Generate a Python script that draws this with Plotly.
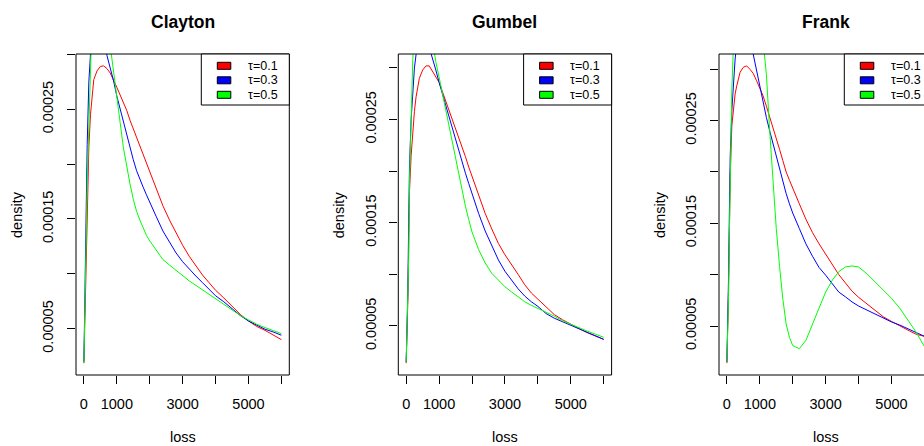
import plotly.graph_objects as go

# ---------------------------------------------------------------
# Data: loss grid and copula-based loss densities for three
# Kendall's tau values, one list per copula family and tau.
# ---------------------------------------------------------------
loss = [0, 25, 50, 75, 100, 150, 200, 250, 300, 400, 500, 600, 700, 800, 900,
        1000, 1100, 1200, 1300, 1400, 1500, 1600, 1700, 1800, 1900, 2000, 2200,
        2400, 2600, 2800, 3000, 3200, 3400, 3600, 3800, 4000, 4250, 4500, 4750,
        5000, 5250, 5500, 5750, 6000]

clayton_tau01 = [1.86e-5, 5.5e-5, 9.0e-5, 13.0e-5, 17.0e-5, 21.5e-5, 24.5e-5, 26.5e-5, 27.7e-5,
                 28.5e-5, 28.9e-5, 28.95e-5, 28.7e-5, 28.3e-5, 27.7e-5, 27.0e-5, 26.3e-5, 25.6e-5,
                 24.9e-5, 24.0e-5, 23.2e-5, 22.4e-5, 21.6e-5, 20.8e-5, 20.0e-5, 19.2e-5, 17.7e-5,
                 16.2e-5, 14.9e-5, 13.7e-5, 12.6e-5, 11.6e-5, 10.7e-5, 9.9e-5, 9.2e-5, 8.5e-5,
                 7.8e-5, 7.0e-5, 6.3e-5, 5.7e-5, 5.2e-5, 4.85e-5, 4.45e-5, 4.0e-5]
clayton_tau03 = [2.0e-5, 7.0e-5, 14.3e-5, 18.5e-5, 21.8e-5, 27.5e-5, 31.0e-5, 32.5e-5, 33.3e-5,
                 33.6e-5, 33.2e-5, 31.8e-5, 29.9e-5, 28.8e-5, 27.6e-5, 26.2e-5, 25.0e-5, 23.8e-5,
                 22.6e-5, 21.4e-5, 20.4e-5, 19.4e-5, 18.6e-5, 17.9e-5, 17.2e-5, 16.5e-5, 15.2e-5,
                 13.9e-5, 12.9e-5, 11.9e-5, 11.1e-5, 10.4e-5, 9.8e-5, 9.2e-5, 8.6e-5, 8.0e-5,
                 7.45e-5, 6.85e-5, 6.2e-5, 5.7e-5, 5.3e-5, 4.95e-5, 4.7e-5, 4.4e-5]
clayton_tau05 = [1.86e-5, 5.0e-5, 9.2e-5, 14.0e-5, 18.3e-5, 25.5e-5, 30.5e-5, 33.5e-5, 35.5e-5,
                 37.0e-5, 37.0e-5, 35.5e-5, 33.5e-5, 30.8e-5, 28.6e-5, 26.3e-5, 23.8e-5, 21.5e-5,
                 19.8e-5, 18.2e-5, 16.8e-5, 15.7e-5, 14.9e-5, 14.2e-5, 13.5e-5, 13.0e-5, 12.1e-5,
                 11.3e-5, 10.8e-5, 10.3e-5, 9.8e-5, 9.35e-5, 8.95e-5, 8.55e-5, 8.1e-5, 7.7e-5,
                 7.25e-5, 6.7e-5, 6.2e-5, 5.8e-5, 5.4e-5, 5.1e-5, 4.85e-5, 4.55e-5]

gumbel_tau01 = [1.40e-5, 4.0e-5, 7.5e-5, 12.5e-5, 18.0e-5, 21.5e-5, 24.0e-5, 25.8e-5, 27.2e-5,
                29.0e-5, 29.8e-5, 30.2e-5, 30.2e-5, 29.7e-5, 29.2e-5, 28.6e-5, 27.7e-5, 26.8e-5,
                26.0e-5, 25.2e-5, 24.3e-5, 23.3e-5, 22.4e-5, 21.4e-5, 20.4e-5, 19.5e-5, 17.6e-5,
                15.9e-5, 14.4e-5, 13.0e-5, 11.9e-5, 11.0e-5, 10.0e-5, 9.0e-5, 8.2e-5, 7.6e-5,
                6.8e-5, 6.1e-5, 5.6e-5, 5.15e-5, 4.75e-5, 4.35e-5, 4.0e-5, 3.7e-5]
gumbel_tau03 = [1.5e-5, 4.5e-5, 8.5e-5, 15.0e-5, 20.5e-5, 25.0e-5, 28.2e-5, 30.0e-5, 31.3e-5,
                32.8e-5, 33.3e-5, 33.0e-5, 32.0e-5, 31.0e-5, 29.8e-5, 28.6e-5, 27.5e-5, 26.4e-5,
                25.3e-5, 24.2e-5, 23.0e-5, 21.8e-5, 20.8e-5, 19.8e-5, 18.8e-5, 17.8e-5, 15.9e-5,
                14.2e-5, 12.8e-5, 11.4e-5, 10.3e-5, 9.4e-5, 8.6e-5, 7.9e-5, 7.35e-5, 6.9e-5,
                6.2e-5, 5.75e-5, 5.4e-5, 5.05e-5, 4.7e-5, 4.35e-5, 4.0e-5, 3.7e-5]
gumbel_tau05 = [1.5e-5, 4.5e-5, 8.5e-5, 11.5e-5, 19.0e-5, 26.5e-5, 30.8e-5, 33.5e-5, 35.0e-5,
                36.5e-5, 36.8e-5, 36.0e-5, 34.5e-5, 32.5e-5, 30.6e-5, 29.1e-5, 27.5e-5, 26.1e-5,
                24.6e-5, 22.9e-5, 21.3e-5, 19.6e-5, 18.0e-5, 16.6e-5, 15.3e-5, 14.1e-5, 12.4e-5,
                11.1e-5, 10.1e-5, 9.4e-5, 8.8e-5, 8.3e-5, 7.8e-5, 7.35e-5, 7.0e-5, 6.7e-5,
                6.35e-5, 5.95e-5, 5.5e-5, 5.15e-5, 4.8e-5, 4.5e-5, 4.2e-5, 3.9e-5]

frank_tau01 = [1.39e-5, 4.5e-5, 8.5e-5, 14.0e-5, 19.5e-5, 24.5e-5, 26.5e-5, 27.6e-5, 28.4e-5,
               29.7e-5, 30.2e-5, 30.33e-5, 30.0e-5, 29.6e-5, 28.9e-5, 28.2e-5, 27.4e-5, 26.4e-5,
               25.4e-5, 24.4e-5, 23.3e-5, 22.2e-5, 21.1e-5, 20.0e-5, 19.2e-5, 18.4e-5, 16.9e-5,
               15.4e-5, 14.1e-5, 13.0e-5, 12.0e-5, 10.9e-5, 10.0e-5, 9.2e-5, 8.4e-5, 7.8e-5,
               7.15e-5, 6.5e-5, 5.9e-5, 5.45e-5, 5.0e-5, 4.6e-5, 4.2e-5, 4.0e-5]
frank_tau03 = [1.5e-5, 5.0e-5, 9.8e-5, 16.0e-5, 21.5e-5, 26.0e-5, 29.0e-5, 31.0e-5, 32.5e-5,
               34.0e-5, 34.5e-5, 34.0e-5, 33.0e-5, 31.4e-5, 29.9e-5, 28.3e-5, 26.8e-5, 25.3e-5,
               24.0e-5, 22.8e-5, 21.4e-5, 20.2e-5, 19.1e-5, 17.9e-5, 16.9e-5, 16.0e-5, 14.5e-5,
               13.0e-5, 11.8e-5, 10.7e-5, 9.95e-5, 9.1e-5, 8.3e-5, 7.85e-5, 7.35e-5, 6.95e-5,
               6.55e-5, 6.2e-5, 5.8e-5, 5.4e-5, 5.1e-5, 4.75e-5, 4.35e-5, 4.0e-5]
frank_tau05 = [1.5e-5, 4.0e-5, 8.0e-5, 14.0e-5, 20.5e-5, 28.0e-5, 32.5e-5, 35.5e-5, 37.5e-5,
               40.0e-5, 41.0e-5, 41.0e-5, 40.5e-5, 39.5e-5, 38.0e-5, 36.0e-5, 33.0e-5, 29.5e-5,
               24.0e-5, 19.0e-5, 14.5e-5, 10.8e-5, 7.6e-5, 5.2e-5, 3.9e-5, 3.1e-5, 2.8e-5,
               3.6e-5, 5.1e-5, 6.75e-5, 8.3e-5, 9.45e-5, 10.3e-5, 10.75e-5, 10.85e-5, 10.75e-5,
               10.1e-5, 9.3e-5, 8.6e-5, 7.7e-5, 6.75e-5, 5.6e-5, 4.4e-5, 3.0e-5]

panel_titles = ["Clayton", "Gumbel", "Frank"]
panel_series = [
    [clayton_tau01, clayton_tau03, clayton_tau05],
    [gumbel_tau01, gumbel_tau03, gumbel_tau05],
    [frank_tau01, frank_tau03, frank_tau05],
]
tau_labels = ["τ=0.1", "τ=0.3", "τ=0.5"]
tau_colors = ["#FF0000", "#0000FF", "#00FF00"]

x_tickvals = [0, 1000, 2000, 3000, 4000, 5000, 6000]
x_ticktext = ["0", "1000", "", "3000", "", "5000", ""]
y_tickvals = [5e-5, 10e-5, 15e-5, 20e-5, 25e-5, 30e-5]
y_ticktext = ["0.00005", "", "0.00015", "", "0.00025", ""]

# ---------------------------------------------------------------
# Layout geometry (pixels)
# ---------------------------------------------------------------
W, H = 924, 446
FONT = "Arial, Liberation Sans, sans-serif"
box_left = [76.0, 398.3, 719.0]
box_w = 213.3
box_top, box_bottom = 54.0, 375.0
leg_w, leg_h = 88.0, 51.0
leg_rows = [65.8, 80.3, 94.8]


def px_x(p):
    return p / W


def px_y(p):
    return 1 - p / H


fig = go.Figure()
shapes = []
annotations = []

span = max(loss) - min(loss)
x_lo = min(loss) - 0.04 * span
x_hi = max(loss) + 0.04 * span

for i, (title, series) in enumerate(zip(panel_titles, panel_series)):
    sfx = "" if i == 0 else str(i + 1)
    for vals, lab, col in zip(series, tau_labels, tau_colors):
        fig.add_trace(go.Scatter(
            x=loss, y=vals, mode="lines", name=lab,
            line=dict(color=col, width=1),
            xaxis="x" + sfx, yaxis="y" + sfx, showlegend=False,
            hoverinfo="skip",
        ))

    left = box_left[i]
    right = left + box_w
    d0 = px_x(left)
    d1 = min(1.0, px_x(right))
    # visible part of the axis range when the panel runs past the page edge
    vis_hi = x_lo + (x_hi - x_lo) * (d1 * W - left) / box_w

    base = series[0]
    y_span = max(base) - min(base)
    y_lo = min(base) - 0.04 * y_span
    y_hi = max(base) + 0.04 * y_span

    common = dict(showgrid=False, zeroline=False, showline=False,
                  ticks="outside", ticklen=8, tickwidth=1, tickcolor="black",
                  tickfont=dict(family=FONT, size=14.5, color="black"),
                  tickmode="array")
    fig.update_layout(**{
        "xaxis" + sfx: dict(domain=[d0, d1], range=[x_lo, vis_hi],
                            anchor="y" + sfx, tickvals=x_tickvals,
                            ticktext=x_ticktext, ticklabelstandoff=8, **common),
        "yaxis" + sfx: dict(domain=[px_y(box_bottom), px_y(box_top)],
                            range=[y_lo, y_hi], anchor="x" + sfx,
                            tickvals=y_tickvals, ticktext=y_ticktext,
                            tickangle=-90, ticklabelstandoff=8, **common),
    })

    # plot frame
    shapes.append(dict(type="rect", xref="paper", yref="paper",
                       x0=px_x(left), x1=px_x(right),
                       y0=px_y(box_bottom), y1=px_y(box_top),
                       line=dict(color="black", width=1)))

    # legend frame, filled keys and labels
    lx = right - leg_w
    shapes.append(dict(type="rect", xref="paper", yref="paper",
                       x0=px_x(lx), x1=px_x(right),
                       y0=px_y(box_top + leg_h), y1=px_y(box_top),
                       line=dict(color="black", width=1), fillcolor="white"))
    for ry, lab, col in zip(leg_rows, tau_labels, tau_colors):
        shapes.append(dict(type="rect", xref="paper", yref="paper",
                           x0=px_x(lx + 16), x1=px_x(lx + 29.5),
                           y0=px_y(ry + 3.5), y1=px_y(ry - 3.5),
                           line=dict(color="black", width=1), fillcolor=col))
        annotations.append(dict(x=px_x(lx + 44.5), y=px_y(ry), xref="paper",
                                yref="paper", text=lab, showarrow=False,
                                xanchor="left", yanchor="middle",
                                font=dict(family=FONT, size=12.5, color="black")))

    cx = px_x((left + right) / 2)
    annotations.append(dict(x=cx, y=px_y(22), xref="paper", yref="paper",
                            text="<b>" + title + "</b>", showarrow=False,
                            xanchor="center", yanchor="middle",
                            font=dict(family=FONT, size=17.5, color="black")))
    annotations.append(dict(x=cx, y=px_y(437), xref="paper", yref="paper",
                            text="loss", showarrow=False,
                            xanchor="center", yanchor="middle",
                            font=dict(family=FONT, size=14.5, color="black")))
    annotations.append(dict(x=px_x(left - 59.5), y=px_y((box_top + box_bottom) / 2),
                            xref="paper", yref="paper", text="density",
                            showarrow=False, textangle=-90,
                            xanchor="center", yanchor="middle",
                            font=dict(family=FONT, size=14.5, color="black")))

fig.update_layout(width=W, height=H, margin=dict(l=0, r=0, t=0, b=0),
                  paper_bgcolor="white", plot_bgcolor="white",
                  showlegend=False, shapes=shapes, annotations=annotations)

fig.write_html("out.html")
